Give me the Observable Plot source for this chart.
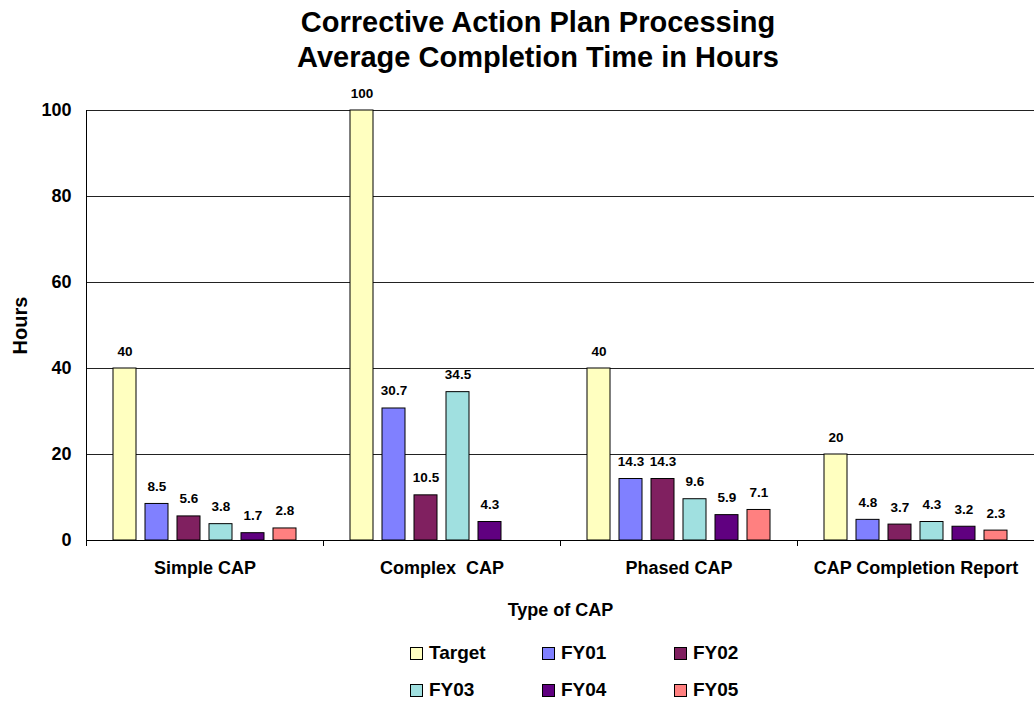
<!DOCTYPE html>
<html><head><meta charset="utf-8">
<script src="https://cdn.jsdelivr.net/npm/d3@7"></script>
<script src="https://cdn.jsdelivr.net/npm/@observablehq/plot@0.6"></script>
<style>
body{margin:0;background:#fff;font-family:"Liberation Sans",Arial,sans-serif;}
#title{width:1034px;padding-left:42px;text-align:center;font-weight:bold;font-size:29px;line-height:35px;padding-top:5px;height:80px;box-sizing:border-box;color:#000}
#chart svg text{white-space:pre}
#legend{display:grid;grid-template-columns:repeat(3,132px);margin-left:410px;margin-top:18px;row-gap:17px;font-weight:bold;font-size:19px}
.item{display:flex;align-items:center;height:20px}
.sw{width:11px;height:11px;border:1px solid #000;margin-right:6px}
</style></head><body>
<div id="title">Corrective Action Plan Processing<br>Average Completion Time in Hours</div>
<div id="chart"></div>
<div id="legend"></div>
<script>
const groups = ["Simple CAP", "Complex  CAP", "Phased CAP", "CAP Completion Report"];
const series = ["Target", "FY01", "FY02", "FY03", "FY04", "FY05"];
const colors = ["#FFFFC0", "#8080FF", "#802060", "#A0E0E0", "#600080", "#FF8080"];
const target = [40, 100, 40, 20];
const fy01 = [8.5, 30.7, 14.3, 4.8];
const fy02 = [5.6, 10.5, 14.3, 3.7];
const fy03 = [3.8, 34.5, 9.6, 4.3];
const fy04 = [1.7, 4.3, 5.9, 3.2];
const fy05 = [2.8, null, 7.1, 2.3];
const yTicks = [0, 20, 40, 60, 80, 100];

const valuesBySeries = [target, fy01, fy02, fy03, fy04, fy05];
const data = [];
groups.forEach((g, gi) => series.forEach((s, si) => {
  const v = valuesBySeries[si][gi];
  if (v != null) data.push({group: g, series: s, value: v});
}));

const H = 545, MT = 30, MB = 85;
const plot = Plot.plot({
  width: 1034, height: H,
  marginLeft: 86, marginRight: 0, marginTop: MT, marginBottom: MB,
  style: {fontFamily: '"Liberation Sans", Arial, sans-serif', fontWeight: "bold", color: "#000", background: "#fff"},
  fx: {domain: groups, padding: 0, label: "Type of CAP"},
  x: {domain: series, paddingInner: 0.28, paddingOuter: 0.84, axis: null},
  y: {domain: [0, 100], label: "Hours"},
  color: {domain: series, range: colors},
  marks: [
    Plot.gridY(yTicks, {stroke: "#222", strokeOpacity: 1}),
    Plot.barY(data, {fx: "group", x: "series", y: "value", fill: "series", stroke: "#000", strokeWidth: 1}),
    Plot.text(data, {fx: "group", x: "series", y: "value", text: d => String(d.value), dy: -13, lineAnchor: "bottom", fontSize: 13.5, fontWeight: "bold"}),
    Plot.ruleY([0], {stroke: "#000"}),
    Plot.frame({anchor: "left", facetAnchor: "left", insetBottom: -5, stroke: "#000"}),
    Plot.frame({anchor: "left", insetTop: H - MT - MB, insetBottom: -5, stroke: "#000"}),
    Plot.axisY({ticks: yTicks, tickSize: 0, tickPadding: 15, fontSize: 18, label: null}),
    Plot.axisY({ticks: [], label: "Hours", fontSize: 20, labelAnchor: "center", labelOffset: 74, labelArrow: "none"}),
    Plot.axisFx({anchor: "bottom", tickSize: 0, tickPadding: 21, fontSize: 18, label: null}),
    Plot.axisFx({anchor: "bottom", ticks: [], label: "Type of CAP", fontSize: 18, labelAnchor: "center", labelOffset: 75})
  ]
});
document.getElementById("chart").appendChild(plot);

const legend = document.getElementById("legend");
series.forEach((s, i) => {
  const item = document.createElement("div");
  item.className = "item";
  const sw = document.createElement("span");
  sw.className = "sw";
  sw.style.background = colors[i];
  item.appendChild(sw);
  item.appendChild(document.createTextNode(s));
  legend.appendChild(item);
});
</script>
</body></html>
